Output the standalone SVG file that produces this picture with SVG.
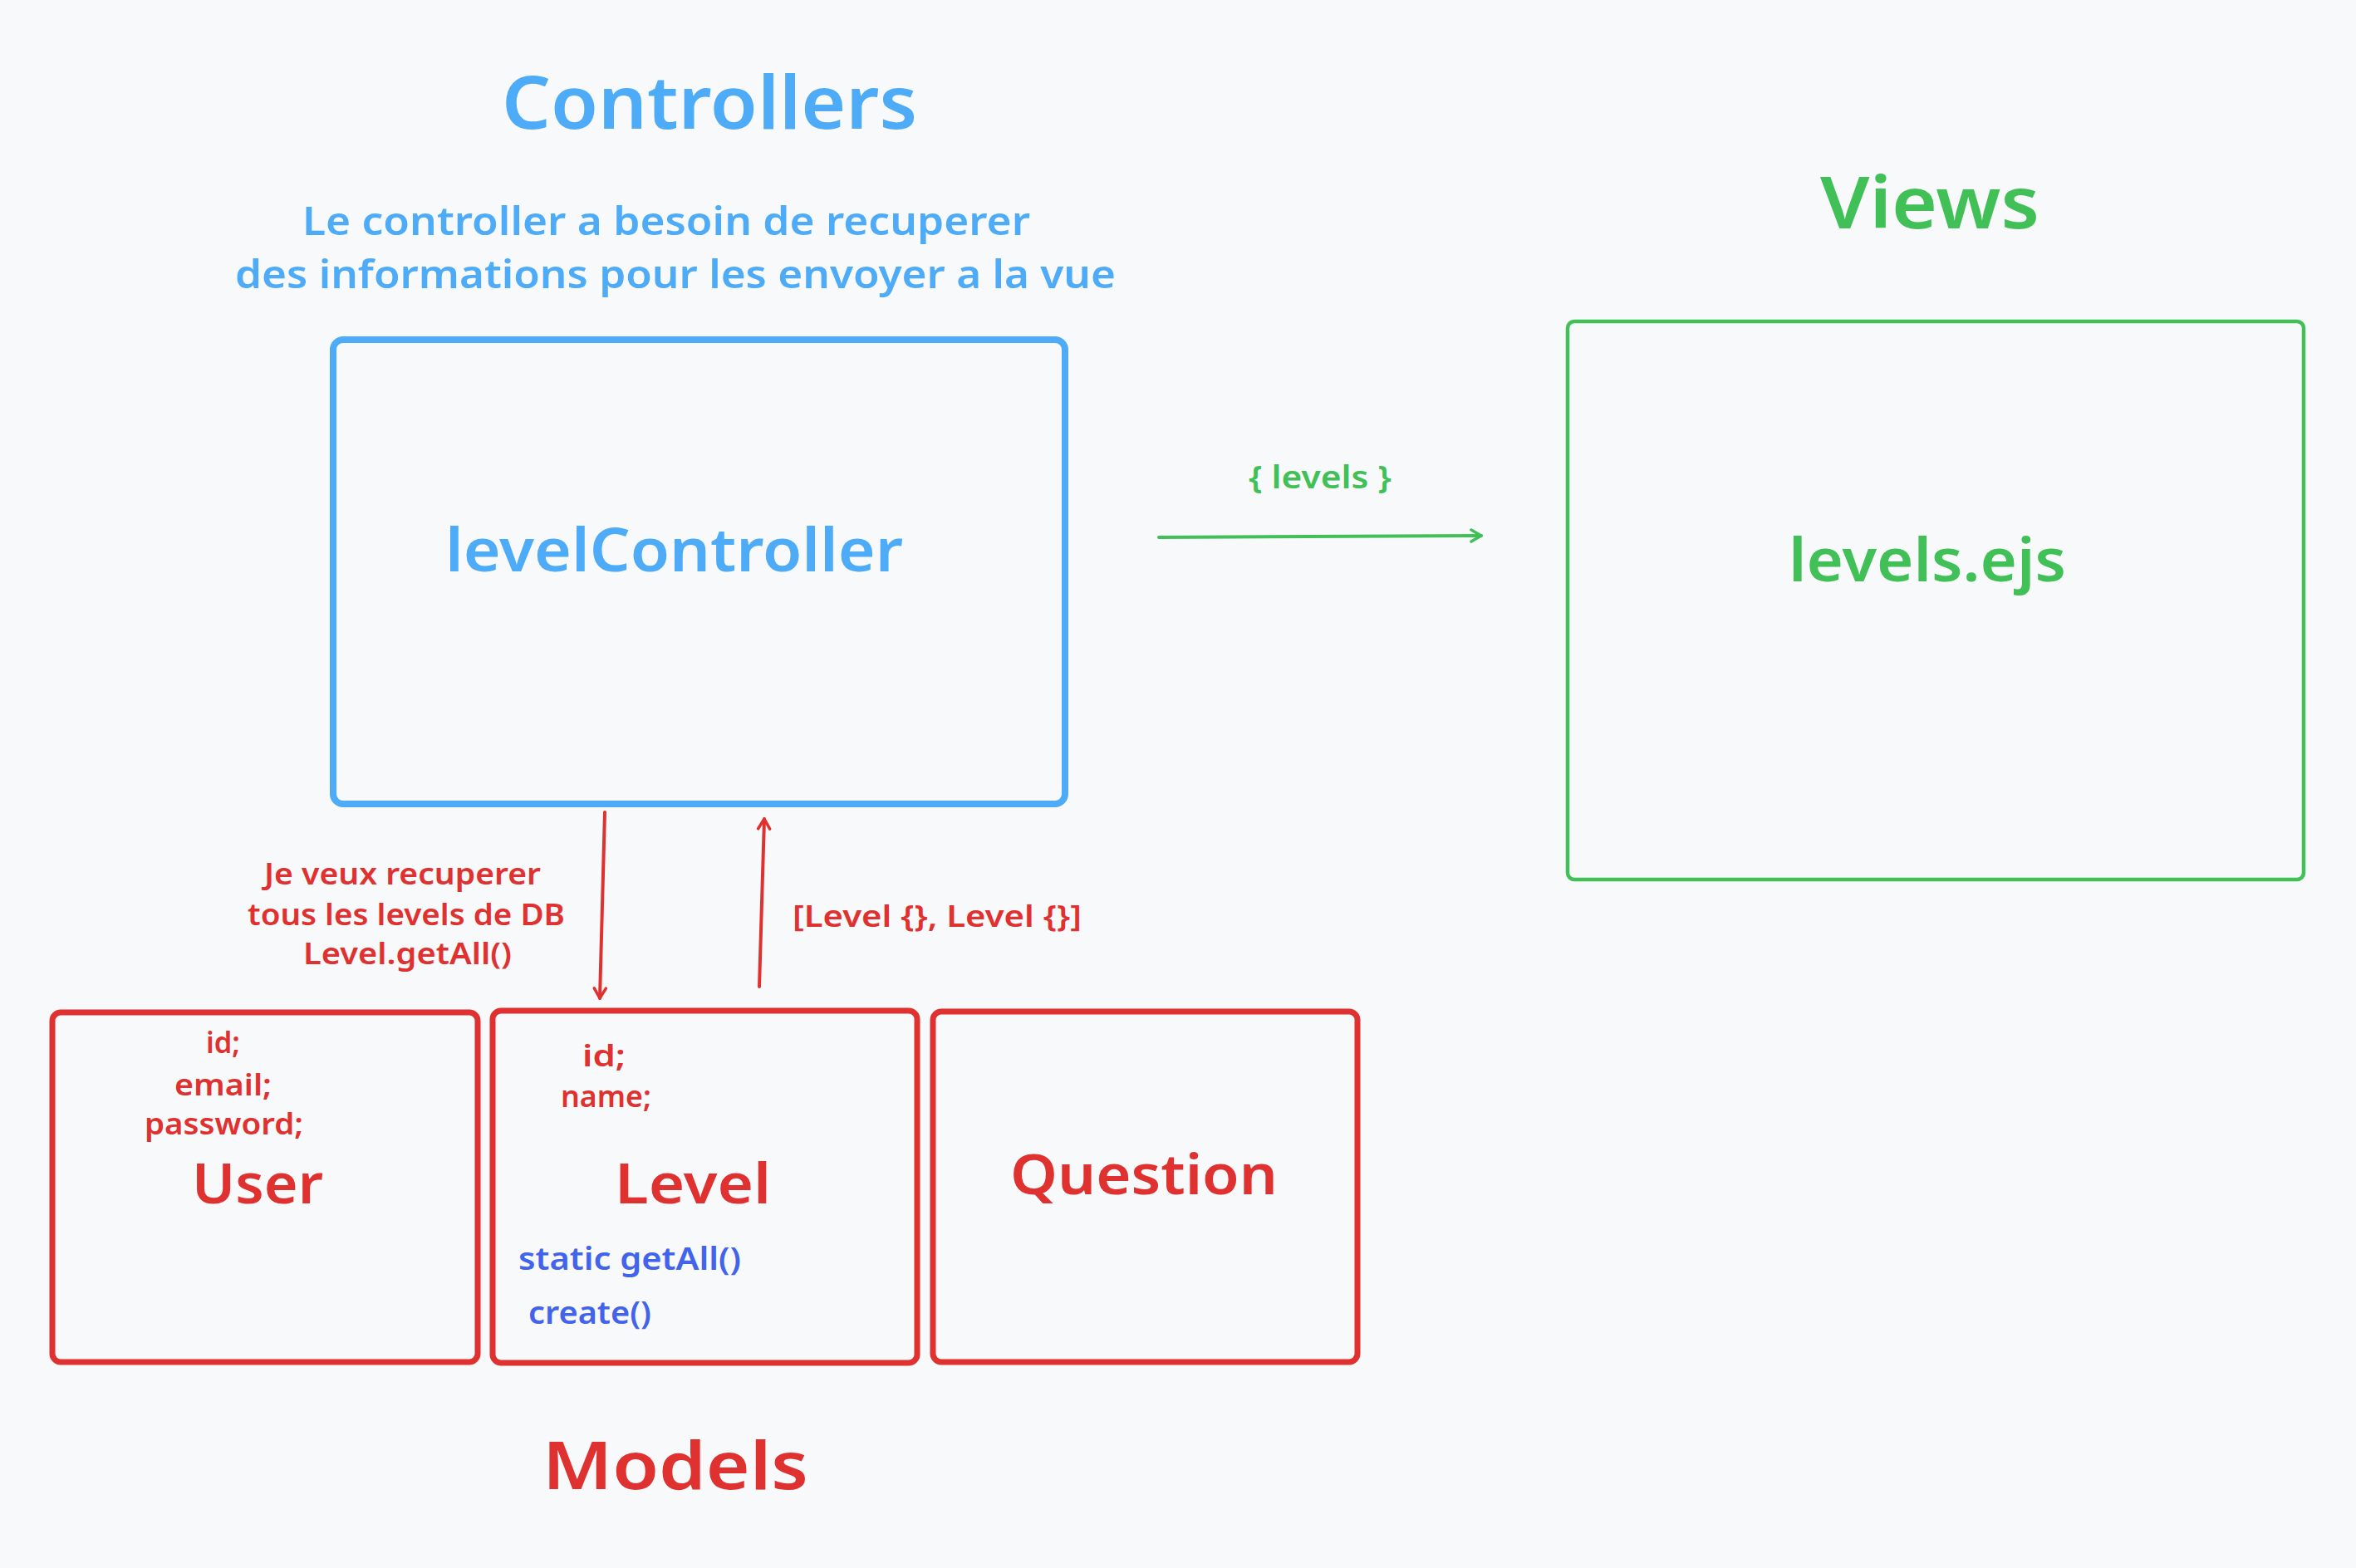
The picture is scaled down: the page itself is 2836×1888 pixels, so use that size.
<svg xmlns="http://www.w3.org/2000/svg" width="2836" height="1888" viewBox="0 0 2836 1888">
<style>
text{font-family:"Noto Sans","Liberation Sans",sans-serif;font-weight:600;}
.blue{fill:#4dabf7;}
.green{fill:#40c057;}
.red{fill:#e03131;}
.indigo{fill:#4263eb;}
.box{fill:none;stroke-linejoin:round;}
.conn{fill:none;stroke-linecap:round;}
</style>
<defs>
<marker id="ag" viewBox="0 0 20 20" refX="18" refY="10" markerWidth="20" markerHeight="20" markerUnits="userSpaceOnUse" orient="auto">
<path d="M6,3 L18,10 L6,17" fill="none" stroke="#40c057" stroke-width="3.5" stroke-linecap="round" stroke-linejoin="round"/>
</marker>
<marker id="ar" viewBox="0 0 20 20" refX="18" refY="10" markerWidth="20" markerHeight="20" markerUnits="userSpaceOnUse" orient="auto">
<path d="M6,3 L18,10 L6,17" fill="none" stroke="#e03131" stroke-width="3.5" stroke-linecap="round" stroke-linejoin="round"/>
</marker>
</defs>
<rect x="0" y="0" width="2836" height="1888" fill="#f8f9fa"/>

<g id="titles">
<text class="blue" x="604" y="155" font-size="88" textLength="500" lengthAdjust="spacingAndGlyphs">Controllers</text>
<text class="blue" x="364" y="283" font-size="46" textLength="876" lengthAdjust="spacingAndGlyphs">Le controller a besoin de recuperer</text>
<text class="blue" x="283" y="347" font-size="46" textLength="1060" lengthAdjust="spacingAndGlyphs">des informations pour les envoyer a la vue</text>
<text class="green" x="2191" y="275" font-size="86" textLength="264" lengthAdjust="spacingAndGlyphs">Views</text>
<text class="red" x="653" y="1793" font-size="80" textLength="320" lengthAdjust="spacingAndGlyphs">Models</text>
</g>

<g id="levelController">
<rect class="box" x="401" y="409" width="881" height="559" rx="12" stroke="#4dabf7" stroke-width="8"/>
<text class="blue" x="536" y="688" font-size="72" textLength="551" lengthAdjust="spacingAndGlyphs">levelController</text>
</g>

<g id="levels-ejs">
<rect class="box" x="1887" y="387" width="886" height="672" rx="8" stroke="#40c057" stroke-width="4.5"/>
<text class="green" x="2153" y="700" font-size="72" textLength="334" lengthAdjust="spacingAndGlyphs">levels.ejs</text>
</g>

<g id="User">
<rect class="box" x="63" y="1219" width="512" height="421" rx="10" stroke="#e03131" stroke-width="7"/>
<text class="red" x="248" y="1268" font-size="36" textLength="41" lengthAdjust="spacingAndGlyphs">id;</text>
<text class="red" x="210" y="1319" font-size="36" textLength="117" lengthAdjust="spacingAndGlyphs">email;</text>
<text class="red" x="174" y="1366" font-size="36" textLength="191" lengthAdjust="spacingAndGlyphs">password;</text>
<text class="red" x="231" y="1449" font-size="66" textLength="158" lengthAdjust="spacingAndGlyphs">User</text>
</g>

<g id="Level">
<rect class="box" x="593" y="1217" width="511" height="424" rx="10" stroke="#e03131" stroke-width="7"/>
<text class="red" x="701" y="1284" font-size="36" textLength="52" lengthAdjust="spacingAndGlyphs">id;</text>
<text class="red" x="675" y="1333" font-size="36" textLength="109" lengthAdjust="spacingAndGlyphs">name;</text>
<text class="red" x="740" y="1449" font-size="66" textLength="188" lengthAdjust="spacingAndGlyphs">Level</text>
<text class="indigo" x="624" y="1529" font-size="38" textLength="268" lengthAdjust="spacingAndGlyphs">static getAll()</text>
<text class="indigo" x="636" y="1594" font-size="38" textLength="148" lengthAdjust="spacingAndGlyphs">create()</text>
</g>

<g id="Question">
<rect class="box" x="1123" y="1218" width="511" height="422" rx="10" stroke="#e03131" stroke-width="7"/>
<text class="red" x="1216" y="1438" font-size="66" textLength="322" lengthAdjust="spacingAndGlyphs">Question</text>
</g>

<g id="connectors">
<path class="conn" d="M1395,647 L1783,645" stroke="#40c057" stroke-width="4" marker-end="url(#ag)"/>
<text class="green" x="1503" y="588" font-size="38" textLength="172" lengthAdjust="spacingAndGlyphs">{ levels }</text>
<path class="conn" d="M728,978 L722,1202" stroke="#e03131" stroke-width="4" marker-end="url(#ar)"/>
<text class="red" x="318" y="1065" font-size="36" textLength="333" lengthAdjust="spacingAndGlyphs">Je veux recuperer</text>
<text class="red" x="298" y="1114" font-size="36" textLength="382" lengthAdjust="spacingAndGlyphs">tous les levels de DB</text>
<text class="red" x="365" y="1161" font-size="36" textLength="251" lengthAdjust="spacingAndGlyphs">Level.getAll()</text>
<path class="conn" d="M914,1188 L920,986" stroke="#e03131" stroke-width="4" marker-end="url(#ar)"/>
<text class="red" x="954" y="1116" font-size="36" textLength="348" lengthAdjust="spacingAndGlyphs">[Level {}, Level {}]</text>
</g>
</svg>
